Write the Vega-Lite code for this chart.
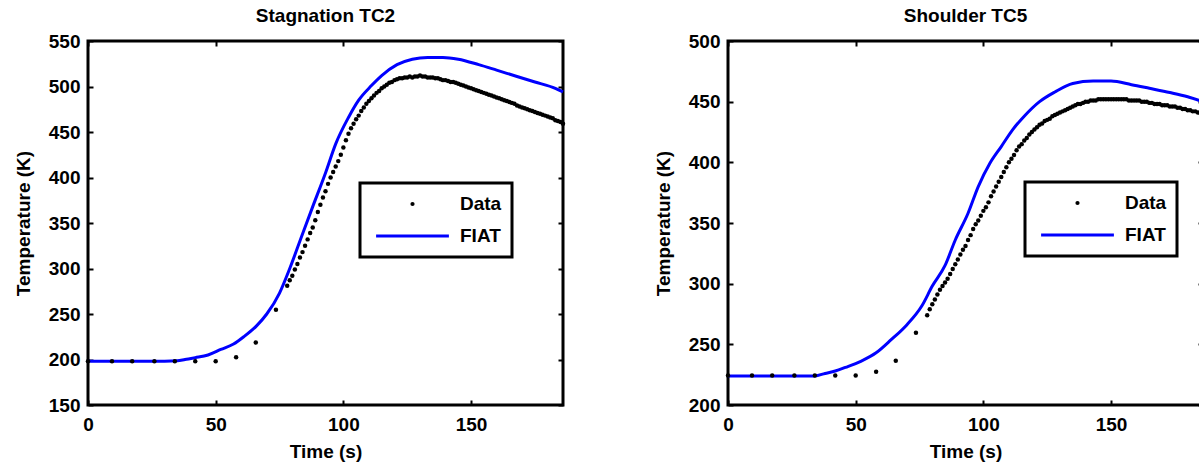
{
  "$schema": "https://vega.github.io/schema/vega-lite/v6.json",
  "background": "white",
  "padding": {"left": 12, "top": 5, "right": 0, "bottom": 0},
  "config": {
    "font": "Liberation Sans",
    "view": {"stroke": "black", "strokeWidth": 3},
    "axis": {
      "grid": false,
      "domain": false,
      "tickColor": "black",
      "tickWidth": 2,
      "tickSize": -5,
      "labelFont": "Liberation Sans",
      "labelFontSize": 19,
      "labelFontWeight": "bold",
      "labelColor": "black",
      "labelFlush": false,
      "labelOverlap": false,
      "titleFont": "Liberation Sans",
      "titleFontSize": 19,
      "titleFontWeight": "bold",
      "titleColor": "black"
    },
    "title": {"font": "Liberation Sans", "fontSize": 19, "fontWeight": "bold", "color": "black", "offset": 6, "anchor": "middle"}
  },
  "datasets": {
    "stagData": [
      {"t":0,"T":198},{"t":9.4,"T":198},{"t":17.3,"T":198},{"t":26,"T":198},{"t":34,"T":198},{"t":42,"T":198},{"t":50,"T":198},{"t":58,"T":202.5},{"t":65.7,"T":218.6},{"t":73.6,"T":254.6},
      {"t":78,"T":281},{"t":79,"T":287},{"t":80,"T":292},{"t":81,"T":299},{"t":82,"T":305},{"t":83,"T":312},{"t":84,"T":318},{"t":85,"T":325},{"t":86,"T":332},{"t":87,"T":339},
      {"t":88,"T":345},{"t":89,"T":353},{"t":90,"T":362},{"t":91,"T":370},{"t":92,"T":378},{"t":93,"T":385},{"t":94,"T":393},{"t":95,"T":400},{"t":96,"T":406},{"t":97,"T":412},
      {"t":98,"T":418},{"t":99,"T":425},{"t":100,"T":433},{"t":101,"T":441},{"t":102,"T":448},{"t":103,"T":454},{"t":104,"T":459},{"t":105,"T":464},{"t":106,"T":468},{"t":107,"T":473},
      {"t":108,"T":477},{"t":109,"T":481},{"t":110,"T":484},{"t":111,"T":487},{"t":112,"T":490},{"t":113,"T":493},{"t":114,"T":495},{"t":115,"T":498},{"t":116,"T":500},{"t":117,"T":502},
      {"t":118,"T":504},{"t":119,"T":505},{"t":120,"T":507},{"t":121,"T":508},{"t":122,"T":509},{"t":123,"T":509},{"t":124,"T":510},{"t":125,"T":510},{"t":126,"T":511},{"t":127,"T":510},
      {"t":128,"T":511},{"t":129,"T":511},{"t":130,"T":512},{"t":131,"T":511},{"t":132,"T":511},{"t":133,"T":510},{"t":134,"T":510},{"t":135,"T":510},{"t":136,"T":509},{"t":137,"T":509},
      {"t":138,"T":508},{"t":139,"T":507},{"t":140,"T":507},{"t":141,"T":506},{"t":142,"T":505},{"t":143,"T":505},{"t":144,"T":504},{"t":145,"T":503},{"t":146,"T":502},{"t":147,"T":501},
      {"t":148,"T":500},{"t":149,"T":499},{"t":150,"T":498},{"t":151,"T":497},{"t":152,"T":496},{"t":153,"T":495},{"t":154,"T":494},{"t":155,"T":493},{"t":156,"T":492},{"t":157,"T":491},
      {"t":158,"T":490},{"t":159,"T":489},{"t":160,"T":488},{"t":161,"T":487},{"t":162,"T":486},{"t":163,"T":485},{"t":164,"T":484},{"t":165,"T":483},{"t":166,"T":482},{"t":167,"T":481},
      {"t":168,"T":479},{"t":169,"T":478},{"t":170,"T":477},{"t":171,"T":476},{"t":172,"T":475},{"t":173,"T":474},{"t":174,"T":473},{"t":175,"T":472},{"t":176,"T":471},{"t":177,"T":470},
      {"t":178,"T":469},{"t":179,"T":468},{"t":180,"T":467},{"t":181,"T":466},{"t":182,"T":465},{"t":183,"T":463},{"t":184,"T":462},{"t":185,"T":461},{"t":186,"T":459}
    ],
    "stagFiat": [
      {"t":0,"T":198},{"t":10,"T":198},{"t":20,"T":198},{"t":30,"T":198},{"t":35,"T":198.5},{"t":38,"T":200},{"t":42,"T":202},{"t":47,"T":205},{"t":52,"T":211},{"t":57,"T":217},
      {"t":61,"T":225},{"t":66,"T":237},{"t":70,"T":250},{"t":75,"T":273},{"t":79,"T":300},{"t":84,"T":338},{"t":88,"T":368},{"t":93,"T":405},{"t":97,"T":437},{"t":102,"T":466},
      {"t":106,"T":485},{"t":111,"T":501},{"t":115,"T":512},{"t":121,"T":524},{"t":127,"T":530},{"t":133,"T":532},{"t":139,"T":532},{"t":145,"T":530},{"t":153,"T":524},{"t":160,"T":518},
      {"t":168,"T":511},{"t":175,"T":505},{"t":183,"T":498},{"t":186,"T":494}
    ],
    "shData": [
      {"t":0,"T":224.4},{"t":9.4,"T":224.4},{"t":17.3,"T":224.4},{"t":26,"T":224.4},{"t":34,"T":224.4},{"t":42,"T":224.4},{"t":50,"T":224.4},{"t":58,"T":227.4},{"t":65.7,"T":236.5},{"t":73.6,"T":259.5},
      {"t":78,"T":274},{"t":79,"T":279},{"t":80,"T":283},{"t":81,"T":287},{"t":82,"T":291},{"t":83,"T":295},{"t":84,"T":298},{"t":85,"T":301},{"t":86,"T":304},{"t":87,"T":308},
      {"t":88,"T":312},{"t":89,"T":316},{"t":90,"T":320},{"t":91,"T":324},{"t":92,"T":328},{"t":93,"T":331},{"t":94,"T":336},{"t":95,"T":340},{"t":96,"T":345},{"t":97,"T":349},
      {"t":98,"T":352},{"t":99,"T":356},{"t":100,"T":360},{"t":101,"T":363},{"t":102,"T":367},{"t":103,"T":372},{"t":104,"T":376},{"t":105,"T":380},{"t":106,"T":384},{"t":107,"T":388},
      {"t":108,"T":392},{"t":109,"T":396},{"t":110,"T":400},{"t":111,"T":403},{"t":112,"T":406},{"t":113,"T":410},{"t":114,"T":413},{"t":115,"T":415},{"t":116,"T":418},{"t":117,"T":420},
      {"t":118,"T":423},{"t":119,"T":425},{"t":120,"T":427},{"t":121,"T":429},{"t":122,"T":431},{"t":123,"T":432},{"t":124,"T":434},{"t":125,"T":435},{"t":126,"T":436},{"t":127,"T":438},
      {"t":128,"T":439},{"t":129,"T":440},{"t":130,"T":441},{"t":131,"T":442},{"t":132,"T":443},{"t":133,"T":444},{"t":134,"T":445},{"t":135,"T":446},{"t":136,"T":447},{"t":137,"T":448},
      {"t":138,"T":448},{"t":139,"T":449},{"t":140,"T":450},{"t":141,"T":450},{"t":142,"T":451},{"t":143,"T":451},{"t":144,"T":451},{"t":145,"T":452},{"t":146,"T":452},{"t":147,"T":452},
      {"t":148,"T":452},{"t":149,"T":452},{"t":150,"T":452},{"t":151,"T":452},{"t":152,"T":452},{"t":153,"T":452},{"t":154,"T":452},{"t":155,"T":452},{"t":156,"T":452},{"t":157,"T":451},
      {"t":158,"T":451},{"t":159,"T":451},{"t":160,"T":451},{"t":161,"T":451},{"t":162,"T":450},{"t":163,"T":450},{"t":164,"T":450},{"t":165,"T":449},{"t":166,"T":449},{"t":167,"T":448},
      {"t":168,"T":448},{"t":169,"T":448},{"t":170,"T":447},{"t":171,"T":447},{"t":172,"T":447},{"t":173,"T":446},{"t":174,"T":446},{"t":175,"T":446},{"t":176,"T":445},{"t":177,"T":445},
      {"t":178,"T":444},{"t":179,"T":444},{"t":180,"T":443},{"t":181,"T":443},{"t":182,"T":442},{"t":183,"T":442},{"t":184,"T":441},{"t":185,"T":441},{"t":186,"T":440}
    ],
    "shFiat": [
      {"t":0,"T":224},{"t":10,"T":224},{"t":20,"T":224},{"t":30,"T":224},{"t":34,"T":224},{"t":38,"T":226},{"t":42,"T":228},{"t":46,"T":231},{"t":52,"T":236},{"t":58,"T":243},
      {"t":64,"T":254},{"t":70,"T":266},{"t":76,"T":282},{"t":80,"T":298},{"t":85,"T":315},{"t":89,"T":336},{"t":94,"T":358},{"t":98,"T":380},{"t":102.5,"T":399},{"t":107,"T":413},
      {"t":111.5,"T":427},{"t":116,"T":438},{"t":122,"T":450},{"t":128,"T":458},{"t":135,"T":465},{"t":143,"T":467},{"t":150,"T":467},{"t":158,"T":464},{"t":165,"T":461},{"t":173,"T":457.5},
      {"t":180,"T":454},{"t":186,"T":450}
    ]
  },
  "spacing": 165,
  "bounds": "flush",
  "resolve": {"scale": {"color": "independent"}, "legend": {"color": "independent"}},
  "hconcat": [
    {
      "title": "Stagnation TC2",
      "width": 475,
      "height": 364,
      "resolve": {"axis": {"x": "independent", "y": "independent"}},
      "layer": [
        {
          "data": {"name": "stagFiat"},
          "mark": {"type": "line", "strokeWidth": 3, "interpolate": "monotone"},
          "encoding": {
            "x": {"field": "t", "type": "quantitative", "scale": {"domain": [0, 186], "nice": false, "zero": false},
                  "axis": {"title": "Time (s)", "values": [0, 50, 100, 150], "labelPadding": 15, "titlePadding": 8}},
            "y": {"field": "T", "type": "quantitative", "scale": {"domain": [150, 550], "nice": false, "zero": false},
                  "axis": {"title": "Temperature (K)", "values": [150, 200, 250, 300, 350, 400, 450, 500, 550], "labelPadding": 13, "titlePadding": 15}},
            "color": {
              "datum": "FIAT", "type": "nominal",
              "scale": {"domain": ["Data", "FIAT"], "range": ["black", "#0000ff"]},
              "legend": {
                "orient": "none", "legendX": 272, "legendY": 142, "title": null,
                "padding": 10, "strokeColor": "black", "fillColor": "white",
                "labelFont": "Liberation Sans", "labelFontSize": 19, "labelFontWeight": "bold", "labelColor": "black",
                "labelOffset": 38, "symbolOffset": 33, "clipHeight": 22, "rowPadding": 10,
                "encode": {
                  "legend": {"update": {"strokeWidth": {"value": 3}}},
                  "symbols": {"update": {
                    "shape": {"signal": "datum.value === 'FIAT' ? 'stroke' : 'circle'"},
                    "size": {"signal": "datum.value === 'FIAT' ? 5300 : 18"},
                    "fill": {"signal": "datum.value === 'FIAT' ? 'transparent' : 'black'"},
                    "stroke": {"signal": "datum.value === 'FIAT' ? '#0000ff' : 'black'"},
                    "strokeWidth": {"signal": "datum.value === 'FIAT' ? 3 : 0"},
                    "opacity": {"value": 1}
                  }}
                }
              }
            }
          }
        },
        {
          "data": {"name": "stagData"},
          "mark": {"type": "point", "filled": true, "shape": "circle", "size": 20, "opacity": 1},
          "encoding": {
            "x": {"field": "t", "type": "quantitative", "axis": {"orient": "top", "labels": false, "title": null, "values": [0, 50, 100, 150]}},
            "y": {"field": "T", "type": "quantitative", "axis": {"orient": "right", "labels": false, "title": null, "values": [150, 200, 250, 300, 350, 400, 450, 500, 550]}},
            "color": {"datum": "Data", "type": "nominal"}
          }
        }
      ]
    },
    {
      "title": "Shoulder TC5",
      "width": 475,
      "height": 364,
      "resolve": {"axis": {"x": "independent", "y": "independent"}},
      "layer": [
        {
          "data": {"name": "shFiat"},
          "mark": {"type": "line", "strokeWidth": 3, "interpolate": "monotone"},
          "encoding": {
            "x": {"field": "t", "type": "quantitative", "scale": {"domain": [0, 186], "nice": false, "zero": false},
                  "axis": {"title": "Time (s)", "values": [0, 50, 100, 150], "labelPadding": 15, "titlePadding": 8}},
            "y": {"field": "T", "type": "quantitative", "scale": {"domain": [200, 500], "nice": false, "zero": false},
                  "axis": {"title": "Temperature (K)", "values": [200, 250, 300, 350, 400, 450, 500], "labelPadding": 13, "titlePadding": 15}},
            "color": {
              "datum": "FIAT", "type": "nominal",
              "scale": {"domain": ["Data", "FIAT"], "range": ["black", "#0000ff"]},
              "legend": {
                "orient": "none", "legendX": 297, "legendY": 141, "title": null,
                "padding": 10, "strokeColor": "black", "fillColor": "white",
                "labelFont": "Liberation Sans", "labelFontSize": 19, "labelFontWeight": "bold", "labelColor": "black",
                "labelOffset": 38, "symbolOffset": 33, "clipHeight": 22, "rowPadding": 10,
                "encode": {
                  "legend": {"update": {"strokeWidth": {"value": 3}}},
                  "symbols": {"update": {
                    "shape": {"signal": "datum.value === 'FIAT' ? 'stroke' : 'circle'"},
                    "size": {"signal": "datum.value === 'FIAT' ? 5300 : 18"},
                    "fill": {"signal": "datum.value === 'FIAT' ? 'transparent' : 'black'"},
                    "stroke": {"signal": "datum.value === 'FIAT' ? '#0000ff' : 'black'"},
                    "strokeWidth": {"signal": "datum.value === 'FIAT' ? 3 : 0"},
                    "opacity": {"value": 1}
                  }}
                }
              }
            }
          }
        },
        {
          "data": {"name": "shData"},
          "mark": {"type": "point", "filled": true, "shape": "circle", "size": 20, "opacity": 1},
          "encoding": {
            "x": {"field": "t", "type": "quantitative", "axis": {"orient": "top", "labels": false, "title": null, "values": [0, 50, 100, 150]}},
            "y": {"field": "T", "type": "quantitative", "axis": {"orient": "right", "labels": false, "title": null, "values": [200, 250, 300, 350, 400, 450, 500]}},
            "color": {"datum": "Data", "type": "nominal"}
          }
        }
      ]
    }
  ]
}
